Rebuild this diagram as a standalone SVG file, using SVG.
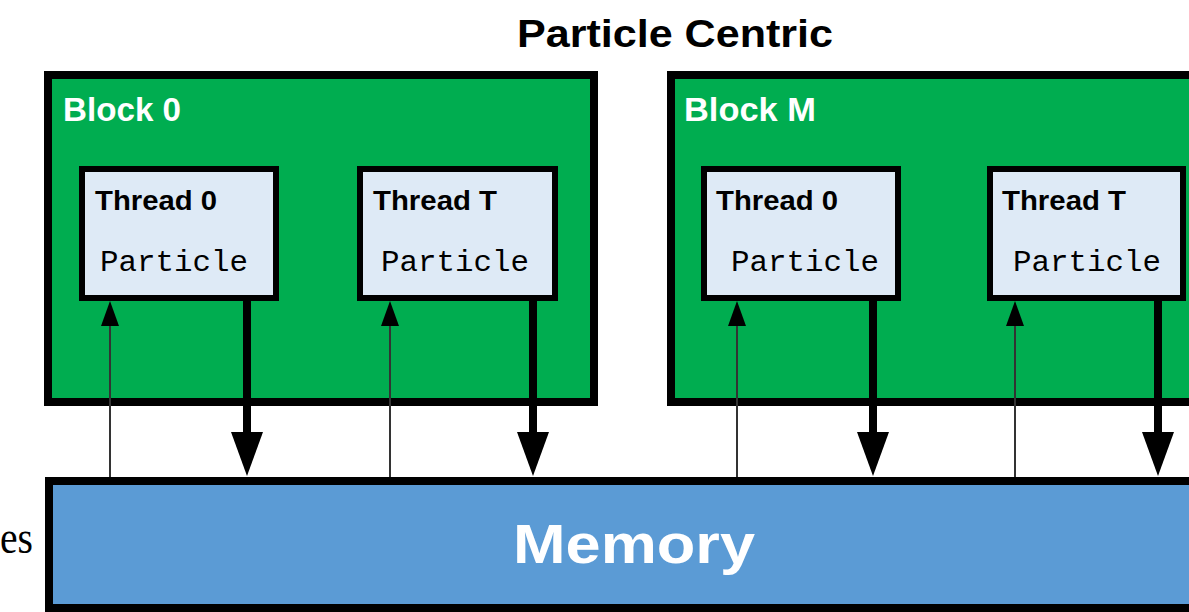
<svg xmlns="http://www.w3.org/2000/svg" width="1189" height="612" viewBox="0 0 1189 612">
<style>
.block{fill:#00AD50;stroke:#000;stroke-width:8}
.thread{fill:#DEEAF6;stroke:#000;stroke-width:6}
.mem{fill:#5B9BD5;stroke:#000;stroke-width:8}
.title{font-family:"Liberation Sans",Arial,sans-serif;font-weight:bold;font-size:38px;fill:#000}
.blabel{font-family:"Liberation Sans",Arial,sans-serif;font-weight:bold;font-size:33px;fill:#fff}
.tlabel{font-family:"Liberation Sans",Arial,sans-serif;font-weight:bold;font-size:27px;fill:#000}
.ptext{font-family:"Liberation Mono","DejaVu Sans Mono",monospace;font-size:30px;fill:#000}
.memtext{font-family:"Liberation Sans",Arial,sans-serif;font-weight:bold;font-size:55px;fill:#fff}
.thin{stroke:#333;stroke-width:2;fill:none}
.thick{stroke:#000;stroke-width:8;fill:none}
.head{fill:#000}
</style>
<rect width="1189" height="612" fill="#fff"/>
<text x="0" y="553" font-family="'Liberation Serif','Times New Roman',serif" font-size="46" textLength="33" lengthAdjust="spacingAndGlyphs">es</text>
<text class="title" x="517" y="47" textLength="316" lengthAdjust="spacingAndGlyphs">Particle Centric</text>
<g id="memory">
<rect class="mem" x="49" y="481" width="1200" height="127"/>
<text class="memtext" x="513" y="563" textLength="242" lengthAdjust="spacingAndGlyphs">Memory</text>
</g>
<g id="block0">
<rect class="block" x="48" y="75" width="546" height="327"/>
<text class="blabel" x="63" y="121" textLength="118" lengthAdjust="spacingAndGlyphs">Block 0</text>
</g>
<g id="blockM">
<rect class="block" x="671" y="75" width="600" height="327"/>
<text class="blabel" x="684" y="121" textLength="132" lengthAdjust="spacingAndGlyphs">Block M</text>
</g>
<g id="b0-thread0">
<rect class="thread" x="82" y="169" width="194" height="129"/>
<text class="tlabel" x="95" y="210" textLength="122" lengthAdjust="spacingAndGlyphs">Thread 0</text>
<text class="ptext" x="100" y="271" textLength="148" lengthAdjust="spacingAndGlyphs">Particle</text>
</g>
<g id="b0-threadT">
<rect class="thread" x="360" y="169" width="195" height="129"/>
<text class="tlabel" x="373" y="210" textLength="124" lengthAdjust="spacingAndGlyphs">Thread T</text>
<text class="ptext" x="381" y="271" textLength="148" lengthAdjust="spacingAndGlyphs">Particle</text>
</g>
<g id="bM-thread0">
<rect class="thread" x="704" y="169" width="194" height="129"/>
<text class="tlabel" x="716" y="210" textLength="122" lengthAdjust="spacingAndGlyphs">Thread 0</text>
<text class="ptext" x="731" y="271" textLength="148" lengthAdjust="spacingAndGlyphs">Particle</text>
</g>
<g id="bM-threadT">
<rect class="thread" x="990" y="169" width="193" height="129"/>
<text class="tlabel" x="1002" y="210" textLength="124" lengthAdjust="spacingAndGlyphs">Thread T</text>
<text class="ptext" x="1013" y="271" textLength="148" lengthAdjust="spacingAndGlyphs">Particle</text>
</g>
<g id="connectors">
<line class="thin" x1="110" y1="477" x2="110" y2="325"/>
<polygon class="head" points="110,301 101,326 119,326"/>
<line class="thick" x1="247" y1="298" x2="247" y2="434"/>
<polygon class="head" points="247,476 231,432 263,432"/>
<line class="thin" x1="390" y1="477" x2="390" y2="325"/>
<polygon class="head" points="390,301 381,326 399,326"/>
<line class="thick" x1="533" y1="298" x2="533" y2="434"/>
<polygon class="head" points="533,476 517,432 549,432"/>
<line class="thin" x1="737" y1="477" x2="737" y2="325"/>
<polygon class="head" points="737,301 728,326 746,326"/>
<line class="thick" x1="873" y1="298" x2="873" y2="434"/>
<polygon class="head" points="873,476 857,432 889,432"/>
<line class="thin" x1="1015" y1="477" x2="1015" y2="325"/>
<polygon class="head" points="1015,301 1006,326 1024,326"/>
<line class="thick" x1="1158" y1="298" x2="1158" y2="434"/>
<polygon class="head" points="1158,476 1142,432 1174,432"/>
</g>
</svg>
